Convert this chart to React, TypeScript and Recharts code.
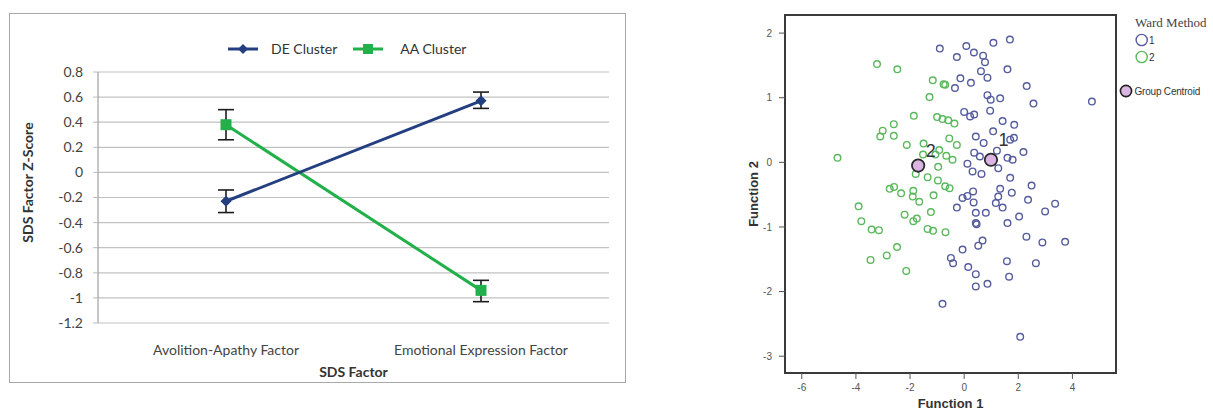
import React from 'react';
import {
  LineChart, Line, XAxis, YAxis, CartesianGrid, ErrorBar, Legend, Label,
  ScatterChart, Scatter, ReferenceArea,
} from 'recharts';

// left panel: SDS factor z-scores per cluster
const factorNames = ['Avolition-Apathy Factor', 'Emotional Expression Factor'];
const deClusterMeans = [-0.23, 0.57];
const deClusterErrors: [number, number][] = [[0.09, 0.09], [0.06, 0.07]];
const aaClusterMeans = [0.38, -0.94];
const aaClusterErrors: [number, number][] = [[0.12, 0.12], [0.09, 0.08]];
const zScoreDomain = [-1.2, 0.8];
const zScoreTicks = [-1.2, -1, -0.8, -0.6, -0.4, -0.2, 0, 0.2, 0.4, 0.6, 0.8];

// right panel: discriminant function scores, Ward method clusters
const wardGroup1: [number, number][] = [
  [-0.9, 1.76], [0.08, 1.8], [0.36, 1.7], [-0.27, 1.63], [0.7, 1.65], [0.77, 1.55],
  [1.08, 1.85], [1.69, 1.9], [1.6, 1.44], [0.62, 1.41], [0.86, 1.31], [0.25, 1.23],
  [-0.14, 1.3], [-0.34, 1.15], [2.31, 1.18], [0.86, 1.04], [0.98, 0.97], [1.33, 0.99],
  [2.56, 0.91], [4.72, 0.94], [0.0, 0.78], [0.37, 0.74], [0.22, 0.71], [0.96, 0.8],
  [1.42, 0.64], [1.85, 0.58], [1.07, 0.48], [0.43, 0.4], [0.72, 0.3], [1.7, 0.35],
  [1.84, 0.38], [0.37, 0.15], [0.58, 0.09], [1.21, 0.18], [1.6, 0.07], [1.79, 0.04],
  [2.19, 0.16], [0.12, -0.02], [0.31, -0.14], [0.64, -0.18], [1.26, -0.09], [1.7, -0.24],
  [2.49, -0.36], [0.33, -0.45], [1.33, -0.41], [1.76, -0.47], [-0.06, -0.55], [0.12, -0.52],
  [0.35, -0.62], [1.26, -0.53], [1.17, -0.63], [1.42, -0.7], [2.36, -0.58], [3.36, -0.64],
  [2.99, -0.76], [0.43, -0.78], [0.8, -0.78], [0.43, -0.94], [0.46, -0.96], [1.6, -0.94],
  [2.03, -0.84], [2.3, -1.15], [2.89, -1.24], [3.73, -1.23], [0.68, -1.21], [0.52, -1.29],
  [-0.06, -1.35], [1.58, -1.53], [2.65, -1.56], [0.15, -1.62], [0.43, -1.73], [1.66, -1.77],
  [0.43, -1.92], [0.86, -1.88], [-0.27, -0.7], [-0.49, -1.48], [-0.41, -1.56], [-0.8, -2.19],
  [2.07, -2.7],
];

const wardGroup2: [number, number][] = [
  [-3.22, 1.52], [-2.47, 1.44], [-1.16, 1.27], [-0.76, 1.21], [-0.7, 1.2], [-1.28, 1.01],
  [-1.86, 0.72], [-1.0, 0.7], [-0.8, 0.67], [-0.59, 0.65], [-0.36, 0.6], [-2.6, 0.59],
  [-3.01, 0.49], [-3.1, 0.4], [-2.6, 0.41], [-2.12, 0.27], [-4.68, 0.07], [-1.5, 0.29],
  [-0.55, 0.37], [-0.27, 0.27], [-0.92, 0.19], [-1.52, 0.12], [-1.06, 0.12], [-0.66, 0.1],
  [-0.43, 0.04], [-0.96, -0.07], [-1.79, -0.18], [-1.35, -0.23], [-0.97, -0.28], [-0.7, -0.37],
  [-0.54, -0.4], [-2.59, -0.38], [-2.75, -0.41], [-2.33, -0.48], [-1.88, -0.44], [-1.9, -0.53],
  [-1.66, -0.61], [-1.13, -0.51], [-3.9, -0.68], [-3.8, -0.91], [-3.42, -1.04], [-3.15, -1.05],
  [-2.2, -0.81], [-1.88, -0.91], [-1.75, -0.87], [-1.23, -0.77], [-1.35, -1.03], [-1.15, -1.06],
  [-0.69, -1.08], [-2.48, -1.31], [-2.86, -1.44], [-3.46, -1.51], [-2.14, -1.68],
];

const groupCentroids = [
  { group: '1', x: 0.99, y: 0.04 },
  { group: '2', x: -1.7, y: -0.05 },
];
const functionDomainX = [-6.62, 5.61];
const functionDomainY = [-3.26, 2.28];
const functionTicksX = [-6, -4, -2, 0, 2, 4];
const functionTicksY = [-3, -2, -1, 0, 1, 2];

const DE_COLOR = '#243f80';
const AA_COLOR = '#22b04b';
const GROUP1_COLOR = '#555c9e';
const GROUP2_COLOR = '#5bb85d';
const CENTROID_FILL = '#dab5e4';
const EXCEL_FONT = 'Lato, "Open Sans", sans-serif';
const SPSS_FONT = '"Liberation Sans", Arial, sans-serif';

const sdsData = factorNames.map((factor, i) => ({
  factor,
  de: deClusterMeans[i],
  deErr: deClusterErrors[i],
  aa: aaClusterMeans[i],
  aaErr: aaClusterErrors[i],
}));

const toPoints = (pairs: [number, number][]) => pairs.map(([x, y]) => ({ x, y }));

const DiamondDot = (props: any) => {
  const { cx, cy, index } = props;
  if (cx == null || cy == null) return null;
  const s = 5.5;
  return (
    <path key={`de-${index}`} d={`M${cx},${cy - s}L${cx + s},${cy}L${cx},${cy + s}L${cx - s},${cy}Z`} fill={DE_COLOR} />
  );
};

const SquareDot = (props: any) => {
  const { cx, cy, index } = props;
  if (cx == null || cy == null) return null;
  return <rect key={`aa-${index}`} x={cx - 5.5} y={cy - 5.5} width={11} height={11} fill={AA_COLOR} />;
};

const SdsLegend = () => (
  <div style={{ display: 'flex', alignItems: 'center', fontFamily: EXCEL_FONT, fontSize: 14, color: '#333', whiteSpace: 'nowrap' }}>
    <svg width={30} height={12}>
      <line x1={0} y1={6} x2={30} y2={6} stroke={DE_COLOR} strokeWidth={3} />
      <path d="M15,1L20,6L15,11L10,6Z" fill={DE_COLOR} />
    </svg>
    <span style={{ marginLeft: 13, marginRight: 16 }}>DE Cluster</span>
    <svg width={30} height={12}>
      <line x1={0} y1={6} x2={30} y2={6} stroke={AA_COLOR} strokeWidth={3} />
      <rect x={10} y={1} width={10} height={10} fill={AA_COLOR} />
    </svg>
    <span style={{ marginLeft: 17 }}>AA Cluster</span>
  </div>
);

const ZScoreTitle = (props: any) => {
  const { viewBox } = props;
  const cx = viewBox.x + 27;
  const cy = viewBox.y + viewBox.height / 2 - 15;
  return (
    <text x={cx} y={cy} transform={`rotate(-90 ${cx} ${cy})`} textAnchor="middle" dominantBaseline="central"
      fontFamily={EXCEL_FONT} fontSize={14} fontWeight="bold" fill="#333">
      SDS Factor Z-Score
    </text>
  );
};

const FactorTitle = (props: any) => {
  const { viewBox } = props;
  return (
    <text x={viewBox.x + viewBox.width / 2} y={viewBox.y + 54} textAnchor="middle"
      fontFamily={EXCEL_FONT} fontSize={14} fontWeight="bold" fill="#333">
      SDS Factor
    </text>
  );
};

const SdsChart = () => (
  <div style={{ position: 'absolute', left: 0, top: 0 }}>
    <div style={{ position: 'absolute', left: 9, top: 13, width: 617, height: 370, border: '1.5px solid #a8a8a8', boxSizing: 'border-box' }} />
    <LineChart width={640} height={414} data={sdsData} margin={{ top: 72, right: 31, bottom: 51, left: 0 }}>
      <CartesianGrid vertical={false} stroke="#c2c2c2" strokeWidth={1.2} />
      <XAxis dataKey="factor" scale="point" padding={{ left: 128, right: 128 }} axisLine={false} tickLine={false}
        tickSize={0} tickMargin={22} height={40} interval={0}
        tick={{ fill: '#444', fontSize: 14, fontFamily: EXCEL_FONT }}>
        <Label content={FactorTitle} />
      </XAxis>
      <YAxis domain={zScoreDomain} ticks={zScoreTicks} width={98} interval={0} allowDataOverflow
        axisLine={{ stroke: '#8c8c8c' }} tickLine={{ stroke: '#bcbcbc' }} tickSize={5} tickMargin={10}
        tick={{ fill: '#444', fontSize: 14, fontFamily: EXCEL_FONT }}>
        <Label content={ZScoreTitle} />
      </YAxis>
      <Legend content={SdsLegend} layout="vertical" align="center" verticalAlign="middle"
        wrapperStyle={{ left: 228, top: 40, width: 'auto', height: 'auto' }} />
      <Line dataKey="aa" name="AA Cluster" stroke={AA_COLOR} strokeWidth={3} dot={SquareDot} activeDot={false} isAnimationActive={false}>
        <ErrorBar dataKey="aaErr" width={8} stroke="#1c1c1c" strokeWidth={1.6} direction="y" />
      </Line>
      <Line dataKey="de" name="DE Cluster" stroke={DE_COLOR} strokeWidth={3} dot={DiamondDot} activeDot={false} isAnimationActive={false}>
        <ErrorBar dataKey="deErr" width={8} stroke="#1c1c1c" strokeWidth={1.6} direction="y" />
      </Line>
    </LineChart>
  </div>
);

const openCircle = (color: string) => (props: any) => {
  const { cx, cy } = props;
  if (cx == null || cy == null) return <g />;
  return <circle cx={cx} cy={cy} r={3.3} fill="none" stroke={color} strokeWidth={1.4} />;
};

const CentroidShape = (props: any) => {
  const { cx, cy, payload } = props;
  if (cx == null || cy == null) return <g />;
  const up = payload.group === '1' ? 14 : 9;
  return (
    <g>
      <circle cx={cx} cy={cy} r={6.2} fill={CENTROID_FILL} stroke="#2a2a2a" strokeWidth={1.8} />
      <text x={cx + 12.5} y={cy - up} textAnchor="middle" fontFamily={SPSS_FONT} fontSize={18} fill="#333">
        {payload.group}
      </text>
    </g>
  );
};

const WardLegend = () => (
  <svg width={100} height={92} style={{ overflow: 'visible' }}>
    <text x={15} y={17} fontFamily='"Liberation Serif", "Times New Roman", serif' fontSize={13} fill="#444">Ward Method</text>
    <circle cx={21.7} cy={30} r={5.6} fill="none" stroke={GROUP1_COLOR} strokeWidth={1.4} />
    <text x={29} y={34} fontFamily={SPSS_FONT} fontSize={10} fill="#333">1</text>
    <circle cx={21.7} cy={47} r={5.6} fill="none" stroke={GROUP2_COLOR} strokeWidth={1.4} />
    <text x={29} y={51} fontFamily={SPSS_FONT} fontSize={10} fill="#333">2</text>
    <circle cx={6} cy={81} r={5.6} fill={CENTROID_FILL} stroke="#222" strokeWidth={1.6} />
    <text x={14.5} y={84.5} fontFamily={SPSS_FONT} fontSize={10} fill="#333" letterSpacing={-0.2}>Group Centroid</text>
  </svg>
);

const Function2Title = (props: any) => {
  const { viewBox } = props;
  const cx = viewBox.x + 53;
  const cy = viewBox.y + viewBox.height / 2;
  return (
    <text x={cx} y={cy} transform={`rotate(-90 ${cx} ${cy})`} textAnchor="middle" dominantBaseline="central"
      fontFamily={SPSS_FONT} fontSize={13} fontWeight="bold" fill="#333">
      Function 2
    </text>
  );
};

const Function1Title = (props: any) => {
  const { viewBox } = props;
  return (
    <text x={viewBox.x + viewBox.width / 2} y={viewBox.y + 35} textAnchor="middle"
      fontFamily={SPSS_FONT} fontSize={13} fontWeight="bold" fill="#333">
      Function 1
    </text>
  );
};

const WardScatter = () => (
  <div style={{ position: 'absolute', left: 700, top: 0 }}>
    <ScatterChart width={513} height={414} margin={{ top: 15, right: 97, bottom: 0, left: 0 }}>
      <XAxis type="number" dataKey="x" domain={functionDomainX} ticks={functionTicksX} interval={0} allowDataOverflow
        axisLine={false} tickLine={{ stroke: '#555' }} tickSize={6} tickMargin={5} height={41}
        tick={{ fill: '#555', fontSize: 10, fontFamily: SPSS_FONT }}>
        <Label content={Function1Title} />
      </XAxis>
      <YAxis type="number" dataKey="y" domain={functionDomainY} ticks={functionTicksY} interval={0} allowDataOverflow
        axisLine={false} tickLine={{ stroke: '#555' }} tickSize={6} tickMargin={7} width={85}
        tick={{ fill: '#555', fontSize: 10, fontFamily: SPSS_FONT }}>
        <Label content={Function2Title} />
      </YAxis>
      <ReferenceArea x1={functionDomainX[0]} x2={functionDomainX[1]} y1={functionDomainY[0]} y2={functionDomainY[1]}
        fill="none" fillOpacity={0} stroke="#3a3a3a" strokeWidth={2} ifOverflow="visible" />
      <Legend content={WardLegend} layout="vertical" align="center" verticalAlign="middle"
        wrapperStyle={{ left: 420, top: 10, width: 'auto', height: 'auto' }} />
      <Scatter name="1" data={toPoints(wardGroup1)} shape={openCircle(GROUP1_COLOR)} isAnimationActive={false} />
      <Scatter name="2" data={toPoints(wardGroup2)} shape={openCircle(GROUP2_COLOR)} isAnimationActive={false} />
      <Scatter name="Group Centroid" data={groupCentroids} shape={CentroidShape} isAnimationActive={false} />
    </ScatterChart>
  </div>
);

export default function App() {
  return (
    <div style={{ position: 'absolute', left: 0, top: 0, width: 1213, height: 414, background: '#fff', overflow: 'hidden' }}>
      <SdsChart />
      <WardScatter />
    </div>
  );
}
